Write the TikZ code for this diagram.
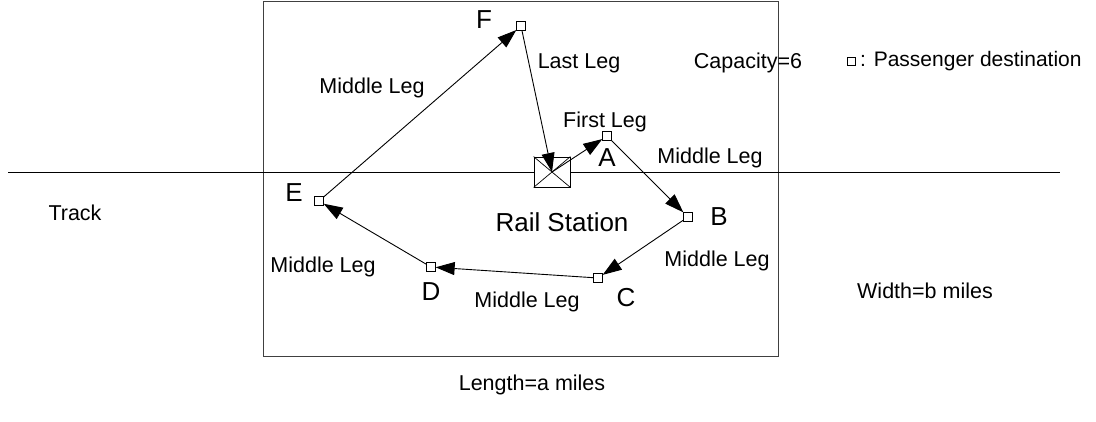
\documentclass[tikz,border=0pt]{standalone}
\usepackage{fontspec}
\setmainfont{Liberation Sans}
\usetikzlibrary{arrows.meta}
\begin{document}
\begin{tikzpicture}[x=1pt,y=-1pt,
  dest/.style={draw,fill=white,minimum size=8.5pt,inner sep=0pt,line width=0.8pt},
  arr/.style={line width=0.9pt,-{Triangle[length=19pt,width=13pt]}},
  lbl/.style={font=\fontsize{21.5}{25}\selectfont,inner sep=0pt},
  big/.style={font=\fontsize{26}{30}\selectfont,inner sep=0pt}]
\useasboundingbox (0,0) rectangle (1096,421);
\node[draw=black!75,line width=1pt,minimum width=515pt,minimum height=355pt,anchor=north west,inner sep=0pt] (frame) at (263,1) {};
\coordinate (TL) at (8,172);
\coordinate (TR) at (1060,172);
\draw[line width=0.9pt] (TL) -- (TR);
\node[draw,fill=white,minimum width=36pt,minimum height=30pt,inner sep=0pt,line width=0.8pt] (S) at (552,172) {};
\draw[line width=0.7pt] (S.north west) -- (S.south east) (S.north east) -- (S.south west);
\node[dest] (A) at (607,136) {};
\node[dest] (B) at (688,217) {};
\node[dest] (C) at (598,278) {};
\node[dest] (D) at (431,267) {};
\node[dest] (E) at (319,201) {};
\node[dest] (F) at (521,26) {};
\draw[arr] (S.center) -- (A);
\draw[arr] (A) -- (B);
\draw[arr] (B) -- (C);
\draw[arr] (C) -- (D);
\draw[arr] (D) -- (E);
\draw[arr] (E) -- (F);
\draw[arr] (F) -- (S.center);
\node[big] (lA) at (607,158) {A};
\node[big] (lB) at (719,217) {B};
\node[big] (lC) at (626,298) {C};
\node[big] (lD) at (431,292) {D};
\node[big] (lE) at (294,193) {E};
\node[big] (lF) at (484,20) {F};
\node[big] (rs) at (562,222) {Rail Station};
\node[lbl] (m1) at (372,88) {Middle Leg};
\node[lbl] (ll) at (579,63) {Last Leg};
\node[lbl] (fl) at (605,122) {First Leg};
\node[lbl] (m2) at (710,158) {Middle Leg};
\node[lbl] (cap) at (748,63) {Capacity=6};
\node[lbl] (m3) at (717,261) {Middle Leg};
\node[lbl] (m4) at (527,302) {Middle Leg};
\node[lbl] (m5) at (323,267) {Middle Leg};
\node[lbl] (tr) at (75,213) {Track};
\node[lbl] (wd) at (925,291) {Width=b miles};
\node[lbl] (lg) at (532,385) {Length=a miles};
\node[dest,minimum size=8pt,line width=0.7pt] (leg) at (851,61) {};
\node[lbl,anchor=west,font=\fontsize{21}{25}\selectfont] (legt) at (860,61) {: Passenger destination};
\end{tikzpicture}
\end{document}
